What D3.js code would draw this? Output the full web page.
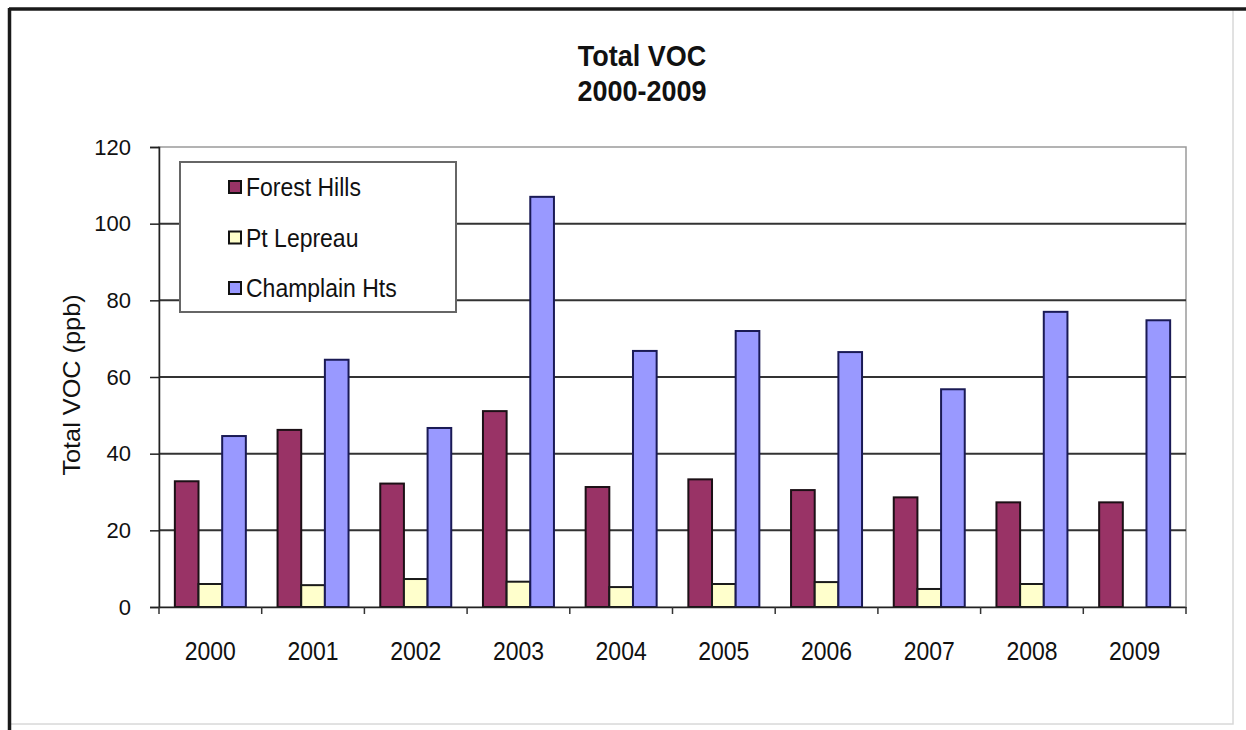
<!DOCTYPE html>
<html>
<head>
<meta charset="utf-8">
<script src="https://cdn.jsdelivr.net/npm/d3@7"></script>
<style>
  html, body { margin: 0; padding: 0; background: #fff; }
  svg { display: block; }
  text { font-family: Arial, "Liberation Sans", Helvetica, sans-serif; fill: #111; }
</style>
</head>
<body>
<svg id="chart" width="1246" height="730"></svg>
<script>
const years = ["2000","2001","2002","2003","2004","2005","2006","2007","2008","2009"];
const seriesNames = ["Forest Hills", "Pt Lepreau", "Champlain Hts"];
const forestHills = [32.8, 46.2, 32.2, 51.1, 31.3, 33.3, 30.5, 28.6, 27.3, 27.3];
const ptLepreau   = [6.0, 5.7, 7.3, 6.6, 5.2, 6.0, 6.5, 4.7, 6.0, null];
const champlain   = [44.6, 64.5, 46.7, 107.0, 66.8, 72.0, 66.5, 56.8, 77.0, 74.8];
const yTicks = [0, 20, 40, 60, 80, 100, 120];
const titleLines = ["Total VOC", "2000-2009"];
const yTitle = "Total VOC (ppb)";

const colors = ["#993366", "#FFFFCC", "#9999FF"];
const strokes = ["#1c1016", "#1a1a1a", "#1a1a55"];
const seriesValues = [forestHills, ptLepreau, champlain];

const svg = d3.select("#chart");
const plot = {left: 159, right: 1186, top: 147, bottom: 607};
const VS = 1.1; // slight vertical stretch of glyphs, as in the reference

// Outer frame
svg.append("rect").attr("x", 9).attr("y", 9).attr("width", 1224).attr("height", 715)
  .attr("fill", "#fff").attr("stroke", "#d8d8d8").attr("stroke-width", 1.5);
svg.append("line").attr("x1", 9).attr("x2", 1246).attr("y1", 9).attr("y2", 9)
  .attr("stroke", "#1a1a1a").attr("stroke-width", 3.5);
svg.append("line").attr("x1", 9.5).attr("x2", 9.5).attr("y1", 8).attr("y2", 730)
  .attr("stroke", "#1a1a1a").attr("stroke-width", 3.5);

const x = d3.scaleBand().domain(years).range([plot.left, plot.right]).paddingInner(0).paddingOuter(0);
const inner = d3.scaleBand().domain(seriesNames).range([0, x.bandwidth()]).paddingOuter(0.67).paddingInner(0);
const y = d3.scaleLinear().domain([0, 120]).range([plot.bottom, plot.top]);

// Plot area border (gray)
svg.append("rect").attr("x", plot.left).attr("y", plot.top)
  .attr("width", plot.right - plot.left).attr("height", plot.bottom - plot.top)
  .attr("fill", "none").attr("stroke", "#9a9a9a").attr("stroke-width", 1.5);

// Gridlines
svg.append("g").selectAll("line").data(yTicks.filter(d => d > 0 && d < 120)).join("line")
  .attr("x1", plot.left).attr("x2", plot.right)
  .attr("y1", d => y(d)).attr("y2", d => y(d))
  .attr("stroke", "#333").attr("stroke-width", 2);

// Y axis
const yAxis = svg.append("g").attr("transform", `translate(${plot.left},0)`)
  .call(d3.axisLeft(y).tickValues(yTicks).tickSize(9).tickPadding(19));
yAxis.select(".domain").attr("stroke", "#222").attr("stroke-width", 1.5);
yAxis.selectAll(".tick line").attr("stroke", "#222").attr("stroke-width", 1.5);
yAxis.selectAll(".tick text").attr("font-size", 22).attr("fill", "#111")
  .attr("font-family", "Arial, 'Liberation Sans', sans-serif");

// Bars
const groups = svg.append("g").selectAll("g").data(seriesNames).join("g");
groups.each(function(name, si) {
  const vals = seriesValues[si];
  d3.select(this).selectAll("rect")
    .data(years.map((yr, i) => ({yr, v: vals[i]})).filter(d => d.v != null))
    .join("rect")
    .attr("x", d => x(d.yr) + inner(name))
    .attr("width", inner.bandwidth())
    .attr("y", d => y(d.v))
    .attr("height", d => y(0) - y(d.v))
    .attr("fill", colors[si])
    .attr("stroke", strokes[si])
    .attr("stroke-width", 2);
});

// X axis
const xAxis = svg.append("g").attr("transform", `translate(0,${plot.bottom})`)
  .call(d3.axisBottom(x).tickSize(0).tickPadding(0));
xAxis.select(".domain").attr("stroke", "#222").attr("stroke-width", 1.5);
xAxis.selectAll(".tick text").remove();
// boundary tick marks
svg.append("g").selectAll("line").data(years.concat(["end"])).join("line")
  .attr("x1", (d, i) => i < years.length ? x(d) : plot.right)
  .attr("x2", (d, i) => i < years.length ? x(d) : plot.right)
  .attr("y1", plot.bottom).attr("y2", plot.bottom + 7)
  .attr("stroke", "#333").attr("stroke-width", 1.5);
svg.append("g").selectAll("text").data(years).join("text")
  .attr("transform", d => `translate(${x(d) + x.bandwidth() / 2},${660}) scale(1,${VS})`)
  .attr("text-anchor", "middle")
  .attr("font-size", 23)
  .text(d => d);

// Title
svg.append("g").selectAll("text").data(titleLines).join("text")
  .attr("transform", (d, i) => `translate(642,${66 + i * 35}) scale(1,${VS})`)
  .attr("text-anchor", "middle")
  .attr("font-size", 27)
  .attr("font-weight", "bold")
  .text(d => d);

// Y-axis title
svg.append("text")
  .attr("transform", `translate(80,385) scale(1,${VS}) rotate(-90)`)
  .attr("text-anchor", "middle")
  .attr("font-size", 23)
  .text(yTitle);

// Legend
const lg = svg.append("g");
lg.append("rect").attr("x", 180).attr("y", 162).attr("width", 276).attr("height", 150)
  .attr("fill", "#fff").attr("stroke", "#666").attr("stroke-width", 2);
const items = lg.selectAll("g.item").data(seriesNames).join("g").attr("class", "item")
  .attr("transform", (d, i) => `translate(229,${187 + i * 50.5})`);
items.append("rect").attr("x", 0).attr("y", -6).attr("width", 12).attr("height", 12)
  .attr("fill", (d, i) => colors[i]).attr("stroke", "#111").attr("stroke-width", 2);
items.append("text")
  .attr("transform", `translate(17,9) scale(1,${VS})`)
  .attr("font-size", 23)
  .text(d => d);
</script>
</body>
</html>
